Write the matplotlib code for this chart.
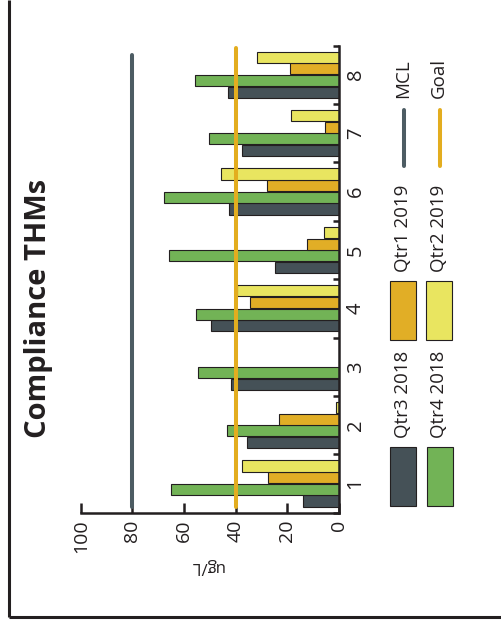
import numpy as np
import matplotlib
matplotlib.use("Agg")
import matplotlib.pyplot as plt
from matplotlib.patches import Rectangle

plt.rcParams['font.family'] = ['Open Sans', 'DejaVu Sans']

# Datos de la gráfica
categorias = [1, 2, 3, 4, 5, 6, 7, 8]
series = ["Qtr3 2018", "Qtr4 2018", "Qtr1 2019", "Qtr2 2019"]
qtr3_2018 = [14.0, 35.4, 41.6, 49.6, 24.6, 42.4, 37.6, 42.8]
qtr4_2018 = [65.0, 43.2, 54.4, 55.2, 65.7, 67.6, 50.4, 55.7]
qtr1_2019 = [27.3, 23.3, np.nan, 34.4, 12.4, 27.9, 5.3, 18.9]
qtr2_2019 = [37.4, 1.2, np.nan, 39.5, 5.7, 45.7, 18.5, 31.8]
MCL = 80
GOAL = 40
ticks_valor = [0, 20, 40, 60, 80, 100]

# Colores
COL_SERIES = ["#455157", "#72b356", "#e1ae26", "#e9e560"]
COL_MCL = "#4d5c63"
COL_GOAL = "#e3ad1f"
NEGRO = "#231f20"

W, H = 501, 622
fig = plt.figure(figsize=(W / 100, H / 100), dpi=100)

# Capa de fondo en pixeles (marco, titulo, leyenda)
ov = fig.add_axes([0, 0, 1, 1])
ov.set_xlim(0, W)
ov.set_ylim(H, 0)
ov.axis("off")

# Ejes principales (la gráfica va girada 90 grados)
x0, x1, y0, y1 = 80.7, 338.7, 45.5, 512.7
ax = fig.add_axes([x0 / W, 1 - y1 / H, (x1 - x0) / W, (y1 - y0) / H])
ax.patch.set_alpha(0)

cats = np.array(categorias)
valores = [qtr3_2018, qtr4_2018, qtr1_2019, qtr2_2019]
offsets = [-0.3, -0.1, 0.1, 0.3]
for vals, off, col in zip(valores, offsets, COL_SERIES):
    ax.barh(cats + off, vals, height=0.19, color=col, edgecolor=NEGRO,
            linewidth=0.8, zorder=2)

ax.plot([MCL, MCL], [0.59, 8.33], color=COL_MCL, lw=2.9,
        solid_capstyle="round", zorder=3)
ax.plot([GOAL, GOAL], [0.59, 8.45], color=COL_GOAL, lw=2.9,
        solid_capstyle="round", zorder=3)

ax.set_xlim(100, 0)
ax.set_ylim(0.5, 8.5)
for s in ["top", "left"]:
    ax.spines[s].set_visible(False)
for s in ["right", "bottom"]:
    ax.spines[s].set_linewidth(1.8)
    ax.spines[s].set_color(NEGRO)
    ax.spines[s].set_zorder(4)

ax.set_xticks(ticks_valor)
ax.set_xticklabels([str(t) for t in ticks_valor], rotation=90, fontsize=14)
ax.tick_params(axis="x", direction="in", length=7, width=1.8, color=NEGRO,
               pad=5, labelcolor=NEGRO)

ax.yaxis.tick_right()
ax.set_yticks(categorias)
ax.set_yticklabels([str(c) for c in categorias], rotation=90, fontsize=14.5,
                   va="center")
ax.set_yticks(np.arange(0.5, 9, 1), minor=True)
ax.tick_params(axis="y", which="major", length=0, pad=5, labelcolor=NEGRO)
ax.tick_params(axis="y", which="minor", direction="in", length=4, width=1.8,
               color=NEGRO)

# Marco exterior
ov.plot([9, 9], [0, 617], color=NEGRO, lw=2.2, solid_capstyle="butt")
ov.plot([9, W], [617, 617], color=NEGRO, lw=2.2, solid_capstyle="butt")

# Titulo y etiqueta de unidades
ov.text(39, 308, "Compliance THMs", rotation=90, ha="center", va="center",
        fontsize=21, fontweight="bold", color=NEGRO)
ov.text(207, 566, "ug/L", rotation=180, ha="center", va="center",
        fontsize=12, color=NEGRO)

# Leyenda
leyenda = [
    (390, 447, 403, 438, 0),
    (427, 447, 439, 438, 1),
    (390, 281, 403, 272, 2),
    (426, 281, 439, 272, 3),
]
for px, py, tx, ty, i in leyenda:
    ov.add_patch(Rectangle((px, py), 26, 59, facecolor=COL_SERIES[i],
                           edgecolor=NEGRO, linewidth=0.8))
    ov.text(tx, ty, series[i], rotation=90, ha="center", va="bottom",
            fontsize=13.5, color=NEGRO)

ov.plot([404, 404], [110, 166], color=COL_MCL, lw=2.9, solid_capstyle="round")
ov.plot([440, 440], [110, 166], color=COL_GOAL, lw=2.9, solid_capstyle="round")
ov.text(403, 98, "MCL", rotation=90, ha="center", va="bottom",
        fontsize=13.5, color=NEGRO)
ov.text(439, 98, "Goal", rotation=90, ha="center", va="bottom",
        fontsize=13.5, color=NEGRO)

fig.savefig("out.png", dpi=100)
